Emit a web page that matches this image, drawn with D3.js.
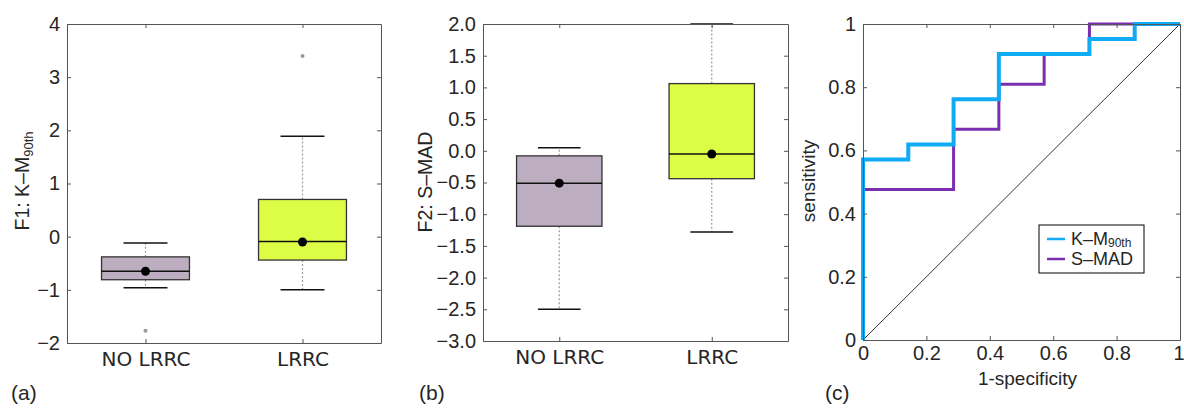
<!DOCTYPE html>
<html lang="en">
<head>
<meta charset="UTF-8">
<title>LRRC features</title>
<script src="https://cdn.jsdelivr.net/npm/d3@7"></script>
<style>
  body { margin: 0; background: #fff; }
  text { font-family: "Liberation Sans", Arial, sans-serif; fill: #262626; }
  .cat text { font-family: "DejaVu Sans", sans-serif; }
</style>
</head>
<body>
<script>
// ---- data ----
const groups = ['NO LRRC', 'LRRC'];
const groupColors = ['#bcaec0', '#dcfc46'];

// box stats per group: [lowWhisker, q1, median, q3, highWhisker], mean, outliers
const f1Stats = [[-0.96, -0.81, -0.65, -0.38, -0.12], [-1.0, -0.44, -0.09, 0.70, 1.89]];
const f1Means = [-0.65, -0.10];
const f1Outliers = [[-1.77], [3.40]];
const f1Ticks = [-2, -1, 0, 1, 2, 3, 4];

const f2Stats = [[-2.50, -1.19, -0.51, -0.08, 0.05], [-1.28, -0.44, -0.05, 1.06, 2.0]];
const f2Means = [-0.51, -0.05];
const f2Outliers = [[], []];
const f2Ticks = [-3, -2.5, -2, -1.5, -1, -0.5, 0, 0.5, 1, 1.5, 2];

// ROC curves (7 negatives, 21 positives)
const rocFpr = [0, 1/7, 2/7, 3/7, 4/7, 5/7, 6/7, 1];
const kmTpr  = [12/21, 13/21, 16/21, 19/21, 19/21, 20/21, 1, 1];
const madTpr = [10/21, 10/21, 14/21, 17/21, 19/21, 1, 1, 1];
const rocTicks = [0, 0.2, 0.4, 0.6, 0.8, 1];

const W = 1184, H = 408;
const svg = d3.select('body').append('svg').attr('width', W).attr('height', H);

function frame(g, x, y, xTicks, yTicks, yFmt, xFmt, catAxis) {
  const [x0, x1] = x.range();
  const [y0, y1] = y.range();
  const bottom = d3.axisBottom(x).tickSizeInner(-4).tickSizeOuter(0).tickPadding(catAxis ? 9 : 6);
  const left = d3.axisLeft(y).tickValues(yTicks).tickFormat(yFmt).tickSizeInner(-4).tickSizeOuter(0).tickPadding(7);
  if (xTicks) bottom.tickValues(xTicks);
  if (xFmt) bottom.tickFormat(xFmt);
  const bx = g.append('g').attr('transform', `translate(0,${y0})`).call(bottom);
  if (catAxis) bx.attr('class', 'cat');
  const top = d3.axisTop(x).tickSizeInner(-4).tickSizeOuter(0).tickFormat('');
  if (xTicks) top.tickValues(xTicks);
  g.append('g').attr('transform', `translate(0,${y1})`).call(top);
  g.append('g').attr('transform', `translate(${x0},0)`).call(left);
  g.append('g').attr('transform', `translate(${x1},0)`)
    .call(d3.axisRight(y).tickValues(yTicks).tickSizeInner(-4).tickSizeOuter(0).tickFormat(''));
  g.selectAll('.domain').attr('stroke', '#555');
  g.selectAll('.tick line').attr('stroke', '#555');
  g.selectAll('.tick text').attr('font-size', 20).attr('fill', '#262626')
    .attr('font-family', '"Liberation Sans", Arial, sans-serif');
  if (catAxis) bx.selectAll('.tick text').attr('font-size', 20).attr('font-family', '"DejaVu Sans", sans-serif');
  return bx;
}

function boxPanel(xr, yr, domain, ticks, fmt, stats, means, outliers) {
  const g = svg.append('g');
  const x = d3.scalePoint().domain(groups).range(xr).padding(0.5);
  const y = d3.scaleLinear().domain(domain).range(yr);
  const bw = (xr[1] - xr[0]) * 0.28;
  const cw = (xr[1] - xr[0]) * 0.14;

  groups.forEach((name, i) => {
    const [lo, q1, med, q3, hi] = stats[i];
    const cx = x(name);
    // whiskers
    g.append('line').attr('x1', cx).attr('x2', cx).attr('y1', y(q3)).attr('y2', y(hi))
      .attr('stroke', '#999').attr('stroke-width', 1.2).attr('stroke-dasharray', '2,2');
    g.append('line').attr('x1', cx).attr('x2', cx).attr('y1', y(q1)).attr('y2', y(lo))
      .attr('stroke', '#999').attr('stroke-width', 1.2).attr('stroke-dasharray', '2,2');
    [lo, hi].forEach(v => {
      g.append('line').attr('x1', cx - cw / 2).attr('x2', cx + cw / 2).attr('y1', y(v)).attr('y2', y(v))
        .attr('stroke', '#111').attr('stroke-width', 1.5);
    });
    // box
    g.append('rect').attr('x', cx - bw / 2).attr('width', bw)
      .attr('y', y(q3)).attr('height', y(q1) - y(q3))
      .attr('fill', groupColors[i]).attr('stroke', '#333').attr('stroke-width', 1.3);
    g.append('line').attr('x1', cx - bw / 2).attr('x2', cx + bw / 2).attr('y1', y(med)).attr('y2', y(med))
      .attr('stroke', '#111').attr('stroke-width', 1.5);
    g.append('circle').attr('cx', cx).attr('cy', y(means[i])).attr('r', 4.5).attr('fill', '#000');
    outliers[i].forEach(v => {
      g.append('circle').attr('cx', cx).attr('cy', y(v)).attr('r', 2).attr('fill', '#999');
    });
  });
  frame(g, x, y, null, ticks, fmt, null, true);
  return g;
}

// panel (a)
const ga = boxPanel([67, 381], [343, 24], [-2, 4], f1Ticks, d3.format('d'), f1Stats, f1Means, f1Outliers);
const la = ga.append('text').attr('transform', 'translate(29,181) rotate(-90)')
  .attr('text-anchor', 'middle').attr('font-size', 19.5);
la.append('tspan').text('F1: K\u2013M');
la.append('tspan').text('90th').attr('font-size', 13).attr('dy', 4);

// panel (b)
const gb = boxPanel([483, 788], [341, 24], [-3, 2], f2Ticks, d3.format('.1f'), f2Stats, f2Means, f2Outliers);
gb.append('text').attr('transform', 'translate(432,182) rotate(-90)')
  .attr('text-anchor', 'middle').attr('font-size', 19.5).text('F2: S\u2013MAD');

// panel (c)
const gc = svg.append('g');
const xc = d3.scaleLinear().domain([0, 1]).range([863, 1180]);
const yc = d3.scaleLinear().domain([0, 1]).range([340, 24]);
const rocFmt = d => d === 0 || d === 1 ? d3.format('d')(d) : d3.format('.1f')(d);

gc.append('line').attr('x1', xc(0)).attr('y1', yc(0)).attr('x2', xc(1)).attr('y2', yc(1))
  .attr('stroke', '#000').attr('stroke-width', 0.8);

function rocPath(tpr) {
  const pts = [[0, 0]];
  rocFpr.forEach((f, i) => {
    pts.push([f, tpr[i]]);
    if (i < rocFpr.length - 1) pts.push([rocFpr[i + 1], tpr[i]]);
  });
  return d3.line().x(d => xc(d[0])).y(d => yc(d[1]))(pts);
}
gc.append('path').attr('d', rocPath(madTpr)).attr('fill', 'none')
  .attr('stroke', '#7b2fb0').attr('stroke-width', 3);
gc.append('path').attr('d', rocPath(kmTpr)).attr('fill', 'none')
  .attr('stroke', '#10aaf5').attr('stroke-width', 4);

const bxc = frame(gc, xc, yc, rocTicks, rocTicks, rocFmt, rocFmt, false);
// last x label sits at the page edge: keep it inside
bxc.selectAll('.tick text').filter(d => d === 1).attr('text-anchor', 'end').attr('dx', 4);

gc.append('text').attr('transform', 'translate(815,181) rotate(-90)')
  .attr('text-anchor', 'middle').attr('font-size', 19).text('sensitivity');
gc.append('text').attr('x', xc(0.5) + 6).attr('y', 385)
  .attr('text-anchor', 'middle').attr('font-size', 19).text('1-specificity');

// legend
const lg = gc.append('g').attr('transform', 'translate(1039,225)');
lg.append('rect').attr('width', 105).attr('height', 48).attr('fill', '#fff').attr('stroke', '#000');
const legendItems = [['K\u2013M', '90th', '#10aaf5'], ['S\u2013MAD', '', '#7b2fb0']];
legendItems.forEach((d, i) => {
  const yy = 14 + i * 20;
  lg.append('line').attr('x1', 8).attr('x2', 26).attr('y1', yy).attr('y2', yy)
    .attr('stroke', d[2]).attr('stroke-width', 2.5);
  const t = lg.append('text').attr('x', 32).attr('y', yy + 6).attr('font-size', 18);
  t.append('tspan').text(d[0]);
  if (d[1]) t.append('tspan').text(d[1]).attr('font-size', 12).attr('dy', 2);
});

// panel letters
[['(a)', 11], ['(b)', 419], ['(c)', 825]].forEach(([s, x]) => {
  svg.append('text').attr('x', x).attr('y', 400).attr('font-size', 21).text(s);
});
</script>
</body>
</html>
